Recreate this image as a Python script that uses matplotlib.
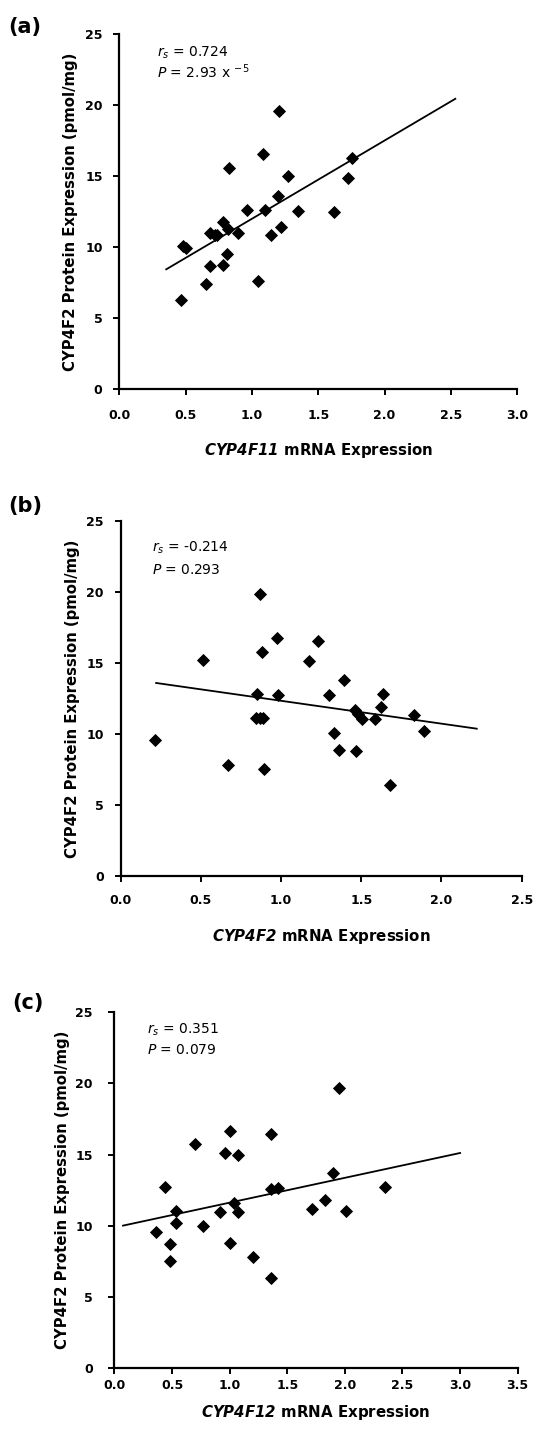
import matplotlib
matplotlib.use('Agg')
import matplotlib.pyplot as plt

plt.rcParams['font.family'] = ['DejaVu Sans']
plt.rcParams['mathtext.fontset'] = 'dejavusans'

# (a) CYP4F11 mRNA vs CYP4F2 protein
a_x = [0.464, 0.482, 0.503, 0.654, 0.682, 0.682, 0.718, 0.738, 0.779, 0.779,
       0.810, 0.821, 0.828, 0.892, 0.962, 1.044, 1.085, 1.100, 1.141, 1.200,
       1.205, 1.218, 1.272, 1.349, 1.615, 1.726, 1.754]
a_y = [6.29, 10.1, 9.93, 7.42, 8.71, 11.0, 10.9, 10.87, 8.76, 11.8,
       9.5, 11.3, 15.6, 11.0, 12.6, 7.65, 16.6, 12.6, 10.9, 13.6,
       19.6, 11.46, 15.0, 12.56, 12.46, 14.9, 16.3]
a_fit = (6.50, 5.51)          # intercept, slope
a_fit_range = (0.354, 2.533)

# (b) CYP4F2 mRNA
b_x = [0.218, 0.515, 0.667, 0.852, 0.847, 0.869, 0.869, 0.879, 0.886, 0.896,
       0.975, 0.979, 1.172, 1.231, 1.299, 1.331, 1.360, 1.392, 1.462, 1.466,
       1.477, 1.504, 1.585, 1.621, 1.636, 1.680, 1.828, 1.890]
b_y = [9.58, 15.23, 7.82, 12.83, 11.13, 11.13, 19.82, 15.77, 11.13, 7.53,
       16.76, 12.76, 15.11, 16.55, 12.71, 10.05, 8.87, 13.82, 11.65, 8.83,
       11.42, 11.02, 11.02, 11.89, 12.83, 6.43, 11.30, 10.19]
b_fit = (13.94, -1.61)
b_fit_range = (0.222, 2.22)

# (c) CYP4F12 mRNA
c_x = [0.362, 0.435, 0.485, 0.485, 0.538, 0.538, 0.700, 0.765, 0.918, 0.956,
       1.000, 1.006, 1.038, 1.074, 1.074, 1.206, 1.359, 1.362, 1.362, 1.418,
       1.712, 1.824, 1.897, 1.950, 2.009, 2.344]
c_y = [9.55, 12.72, 8.73, 7.51, 11.08, 10.19, 15.73, 9.98, 10.96, 15.14,
       16.67, 8.80, 11.60, 15.0, 10.96, 7.79, 12.6, 16.43, 6.34, 12.65,
       11.2, 11.83, 13.7, 19.7, 11.03, 12.72]
c_fit = (9.89, 1.743)
c_fit_range = (0.074, 3.0)

panels = [
    dict(tag='(a)', gene='CYP4F11', x=a_x, y=a_y, fit=a_fit, rng=a_fit_range, xmax=3.0,
         rs='0.724', p=r'2.93 x $^{-5}$',
         rect=[0.2238, 0.7285, 0.7467, 0.2476], tag_xy=(25, 27),
         txt=(0.095, 0.947, 0.894), xpad=10.5, xlab_y=-0.146, ylab_x=-0.104, ypad=8.0),
    dict(tag='(b)', gene='CYP4F2', x=b_x, y=b_y, fit=b_fit, rng=b_fit_range, xmax=2.5,
         rs='-0.214', p='0.293',
         rect=[0.2261, 0.3891, 0.7527, 0.2478], tag_xy=(25, 506),
         txt=(0.0785, 0.923, 0.861), xpad=9.0, xlab_y=-0.144, ylab_x=-0.101, ypad=8.0),
    dict(tag='(c)', gene='CYP4F12', x=c_x, y=c_y, fit=c_fit, rng=c_fit_range, xmax=3.5,
         rs='0.351', p='0.079',
         rect=[0.2148, 0.0458, 0.7565, 0.2483], tag_xy=(28, 1003),
         txt=(0.0806, 0.950, 0.894), xpad=3.5, xlab_y=-0.098, ylab_x=-0.110, ypad=11.5),
]

W, H = 533, 1434
fig = plt.figure(figsize=(W / 100, H / 100), dpi=100)

for pn in panels:
    ax = fig.add_axes(pn['rect'])
    ax.plot(pn['x'], pn['y'], 'D', color='black', ms=6.0, mec='black', mew=0.6)
    b0, b1 = pn['fit']
    lx = list(pn['rng'])
    ax.plot(lx, [b0 + b1 * v for v in lx], '-', color='black', lw=1.3)

    ax.set_xlim(0, pn['xmax'])
    ax.set_ylim(0, 25)
    ax.set_xticks([i * 0.5 for i in range(int(pn['xmax'] / 0.5) + 1)])
    ax.set_yticks([0, 5, 10, 15, 20, 25])
    ax.xaxis.set_major_formatter(matplotlib.ticker.FormatStrFormatter('%.1f'))
    for s in ['top', 'right']:
        ax.spines[s].set_visible(False)
    for s in ['left', 'bottom']:
        ax.spines[s].set_linewidth(1.6)
    ax.tick_params(axis='both', direction='out', length=4, width=1.4, labelsize=9)
    ax.tick_params(axis='x', pad=pn['xpad'])
    ax.tick_params(axis='y', pad=pn['ypad'])
    for lab in ax.get_xticklabels() + ax.get_yticklabels():
        lab.set_fontweight('bold')

    ax.set_xlabel(r'$\mathbfit{%s}$ mRNA Expression' % pn['gene'], fontsize=10.8, fontweight='bold')
    ax.xaxis.set_label_coords(0.5, pn['xlab_y'])
    ax.set_ylabel('CYP4F2 Protein Expression (pmol/mg)', fontsize=10.7, fontweight='bold')
    ax.yaxis.set_label_coords(pn['ylab_x'], 0.5)

    tx, ty1, ty2 = pn['txt']
    ax.text(tx, ty1, r'$r_s$ = ' + pn['rs'], transform=ax.transAxes, fontsize=10, va='center')
    ax.text(tx, ty2, r'$P$ = ' + pn['p'], transform=ax.transAxes, fontsize=10, va='center')

    fig.text(pn['tag_xy'][0] / W, 1 - pn['tag_xy'][1] / H, pn['tag'], fontsize=15,
             fontweight='bold', ha='center', va='center')

fig.savefig('out.png', dpi=100)
